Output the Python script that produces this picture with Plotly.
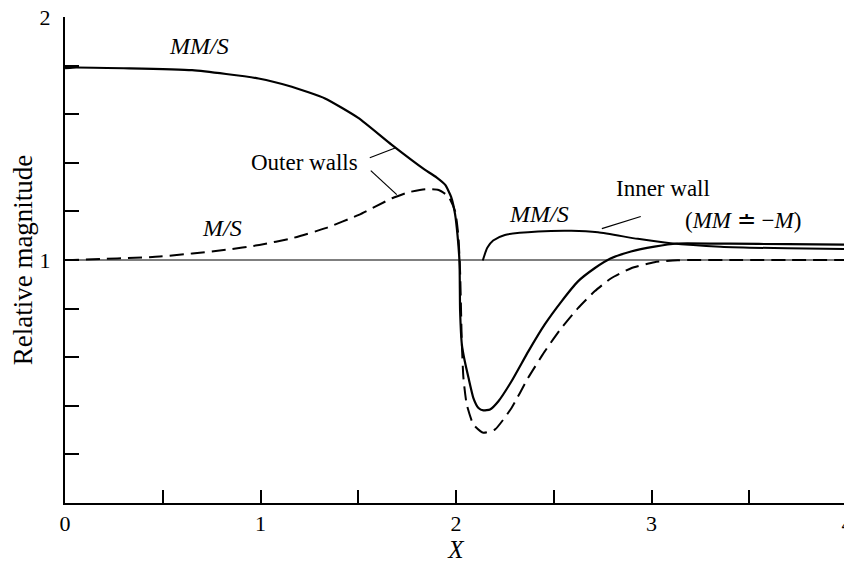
import plotly.graph_objects as go

# ---- data ----
outer_mms_x = [0.0, 0.04, 0.3, 0.65, 0.99, 1.16, 1.33, 1.50, 1.67, 1.84, 1.90, 1.945, 1.975, 1.995,
               2.008, 2.018, 2.021, 2.03, 2.045, 2.064, 2.089, 2.115, 2.14, 2.174, 2.217, 2.284,
               2.37, 2.454, 2.54, 2.624, 2.709, 2.79, 2.895, 3.015, 3.13, 3.4, 3.7, 4.0]
outer_mms_y = [1.79, 1.792, 1.789, 1.781, 1.747, 1.713, 1.665, 1.585, 1.475, 1.372, 1.340, 1.309, 1.26, 1.19,
               1.10, 0.99, 0.79, 0.652, 0.583, 0.515, 0.432, 0.391, 0.381, 0.385, 0.419, 0.501,
               0.624, 0.735, 0.83, 0.912, 0.966, 1.006, 1.035, 1.055, 1.068, 1.067, 1.065, 1.063]

outer_ms_x = [0.0, 0.04, 0.484, 0.824, 0.994, 1.163, 1.333, 1.503, 1.673, 1.758, 1.843, 1.911, 1.962,
              1.996, 2.012, 2.021, 2.03, 2.038, 2.055, 2.089, 2.14, 2.2, 2.284, 2.369, 2.454,
              2.539, 2.624, 2.709, 2.794, 2.896, 3.015, 3.134, 3.4, 3.7, 4.0]
outer_ms_y = [1.0, 1.0, 1.014, 1.042, 1.062, 1.090, 1.131, 1.186, 1.254, 1.279, 1.291, 1.288, 1.261,
              1.199, 1.10, 0.95, 0.653, 0.515, 0.405, 0.323, 0.289, 0.303, 0.391, 0.515, 0.624,
              0.72, 0.802, 0.871, 0.925, 0.966, 0.991, 0.999, 1.0, 1.0, 1.0]

inner_mms_x = [2.137, 2.16, 2.19, 2.25, 2.42, 2.59, 2.726, 2.93, 3.098, 3.354, 3.694, 4.0]
inner_mms_y = [0.998, 1.05, 1.08, 1.103, 1.117, 1.12, 1.114, 1.087, 1.069, 1.055, 1.048, 1.045]

unity_x = [0, 4]
unity_y = [1, 1]

x_ticks = [0, 0.5, 1, 1.5, 2, 2.5, 3, 3.5, 4]
x_tick_text = ["0", "", "1", "", "2", "", "3", "", "4"]
y_ticks = [0, 0.2, 0.4, 0.6, 0.8, 1.0, 1.2, 1.4, 1.6, 1.8, 2.0]
y_tick_text = ["", "", "", "", "", "1", "", "", "", "", "2"]

FONT = "Liberation Serif"

fig = go.Figure()
fig.add_trace(go.Scatter(x=unity_x, y=unity_y, mode="lines",
                         line=dict(color="black", width=1.2), hoverinfo="skip"))
fig.add_trace(go.Scatter(x=outer_ms_x, y=outer_ms_y, mode="lines",
                         line=dict(color="black", width=2, dash="14px,7px", shape="spline", smoothing=0.5)))
fig.add_trace(go.Scatter(x=outer_mms_x, y=outer_mms_y, mode="lines",
                         line=dict(color="black", width=2.2, shape="spline", smoothing=0.5)))
fig.add_trace(go.Scatter(x=inner_mms_x, y=inner_mms_y, mode="lines",
                         line=dict(color="black", width=2, shape="spline", smoothing=0.6)))

def ann(x, y, text, size=23):
    fig.add_annotation(x=x, y=y, xref="x", yref="y", text=text, showarrow=False,
                       font=dict(family=FONT, size=size, color="black"))

ann(0.683, 1.881, "<i>MM/S</i>", 24)
ann(1.223, 1.400, "Outer walls")
ann(0.805, 1.133, "<i>M/S</i>", 24)
ann(2.425, 1.191, "<i>MM/S</i>", 24)
ann(3.057, 1.294, "Inner wall")
ann(3.47, 1.162, "(<i>MM</i> ≐ −<i>M</i>)", 23)

for (x0, y0, x1, y1) in [(1.559, 1.421, 1.692, 1.462), (1.564, 1.368, 1.697, 1.269),
                         (2.945, 1.179, 2.746, 1.129)]:
    fig.add_shape(type="line", x0=x0, y0=y0, x1=x1, y1=y1, xref="x", yref="y",
                  line=dict(color="black", width=1.2))

# the page body has an 8px margin, so the figure is sized to fit the 852x568 window
fig.update_layout(
    width=844, height=560,
    margin=dict(l=57, r=5, t=9, b=65),
    paper_bgcolor="white", plot_bgcolor="white",
    showlegend=False,
    font=dict(family=FONT, size=22, color="black"),
)
fig.update_xaxes(range=[0, 4], tickvals=x_ticks, ticktext=x_tick_text, ticks="inside",
                 ticklen=13, tickwidth=1.5, tickcolor="black", showline=True, linewidth=2,
                 linecolor="black", showgrid=False, zeroline=False, automargin=False,
                 ticklabeloverflow="allow",
                 title=dict(text="<i>X</i>", font=dict(family=FONT, size=25), standoff=2),
                 tickfont=dict(family=FONT, size=22))
fig.update_yaxes(range=[0, 2], tickvals=y_ticks, ticktext=y_tick_text, ticks="inside",
                 ticklen=14, tickwidth=1.5, tickcolor="black", showline=True, linewidth=2,
                 linecolor="black", showgrid=False, zeroline=False, automargin=False,
                 ticklabeloverflow="allow", ticklabelstandoff=8,
                 title=dict(text="Relative magnitude", font=dict(family=FONT, size=27), standoff=6),
                 tickfont=dict(family=FONT, size=22))

fig.write_html("out.html")
